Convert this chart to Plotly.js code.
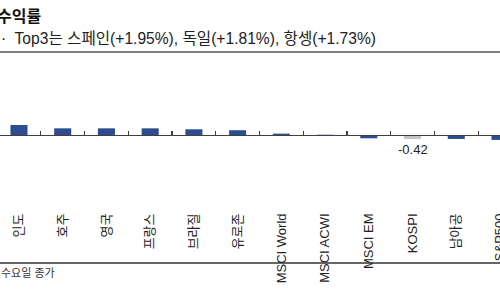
<!DOCTYPE html>
<html>
<head>
<meta charset="utf-8">
<script src="https://cdn.plot.ly/plotly-3.0.1.min.js"></script>
<style>html,body{margin:0;padding:0;background:#fff;}#chart{width:500px;height:300px;}</style>
</head>
<body>
<div id="chart"></div>
<script>
// ---- data ----
const categories = ['인도','호주','영국','프랑스','브라질','유로존','MSCI World','MSCI ACWI','MSCI EM','KOSPI','남아공','S&P500'];
const returns = [1.05, 0.70, 0.70, 0.70, 0.60, 0.50, 0.14, 0.03, -0.35, -0.42, -0.42, -0.52];
const highlight = 'KOSPI';
const titleText = '수익률';
const subtitleText = '·  Top3는 스페인(+1.95%), 독일(+1.81%), 항셍(+1.73%)';
const footnoteText = '수요일 종가';

// ---- layout geometry ----
const W = 500, H = 300;
const mTop = 60, mBottom = 110;
const plotH = H - mTop - mBottom;
const yMin = -5.79, yMax = 7.89;
const axisPos = (0 - yMin) / (yMax - yMin);
const py = p => (H - mBottom - p) / plotH; // pixel y -> paper y

const FONT = 'Liberation Sans, Arial, Noto Sans CJK KR, sans-serif';
const blue = '#2c4d8f', gray = '#c4c4c4';
const colors = categories.map(c => c === highlight ? gray : blue);
const hi = categories.indexOf(highlight);

const trace = {
  type: 'bar',
  x: categories,
  y: returns,
  marker: {color: colors, line: {width: 0}},
  hoverinfo: 'skip'
};

const layout = {
  width: W, height: H,
  margin: {l: 0, r: 0, t: mTop, b: mBottom},
  paper_bgcolor: '#fff', plot_bgcolor: '#fff',
  font: {family: FONT, color: '#222'},
  showlegend: false,
  bargap: 0.61,
  xaxis: {
    type: 'category',
    range: [-0.434, 11.0],
    anchor: 'free',
    position: axisPos,
    showline: true, linecolor: '#404040', linewidth: 1.3,
    ticks: 'inside', ticklen: 4, tickwidth: 1.2, tickcolor: '#404040',
    tickson: 'boundaries',
    tickangle: -90,
    ticklabelstandoff: 72,
    tickfont: {size: 13, color: '#222', family: FONT},
    showgrid: false, zeroline: false, fixedrange: true
  },
  yaxis: {
    range: [yMin, yMax], visible: false, showgrid: false, zeroline: false, fixedrange: true
  },
  shapes: [
    {type: 'line', xref: 'paper', yref: 'paper', x0: -0.01, x1: 1.01, y0: py(52), y1: py(52), line: {color: '#555', width: 1.5}},
    {type: 'line', xref: 'paper', yref: 'paper', x0: -0.01, x1: 1.01, y0: py(263), y1: py(263), line: {color: '#333', width: 1.5}}
  ],
  annotations: [
    {xref: 'paper', yref: 'paper', x: 0, y: py(16), xanchor: 'left', yanchor: 'middle', xshift: -5,
     text: '<b>' + titleText + '</b>', showarrow: false, font: {size: 16, color: '#111', family: FONT}},
    {xref: 'paper', yref: 'paper', x: 0, y: py(39), xanchor: 'left', yanchor: 'middle', xshift: -1,
     text: subtitleText, showarrow: false, font: {size: 15.6, color: '#222', family: FONT}},
    {xref: 'paper', yref: 'paper', x: 0, y: py(272), xanchor: 'left', yanchor: 'middle', xshift: -1,
     text: footnoteText, showarrow: false, font: {size: 11, color: '#333', family: FONT}},
    {xref: 'x', yref: 'y', x: categories[hi], y: returns[hi], xanchor: 'center', yanchor: 'top', yshift: -1,
     text: returns[hi].toFixed(2), showarrow: false, font: {size: 13, color: '#222', family: FONT}}
  ]
};

Plotly.newPlot('chart', [trace], layout, {staticPlot: true, displayModeBar: false});
</script>
</body>
</html>
